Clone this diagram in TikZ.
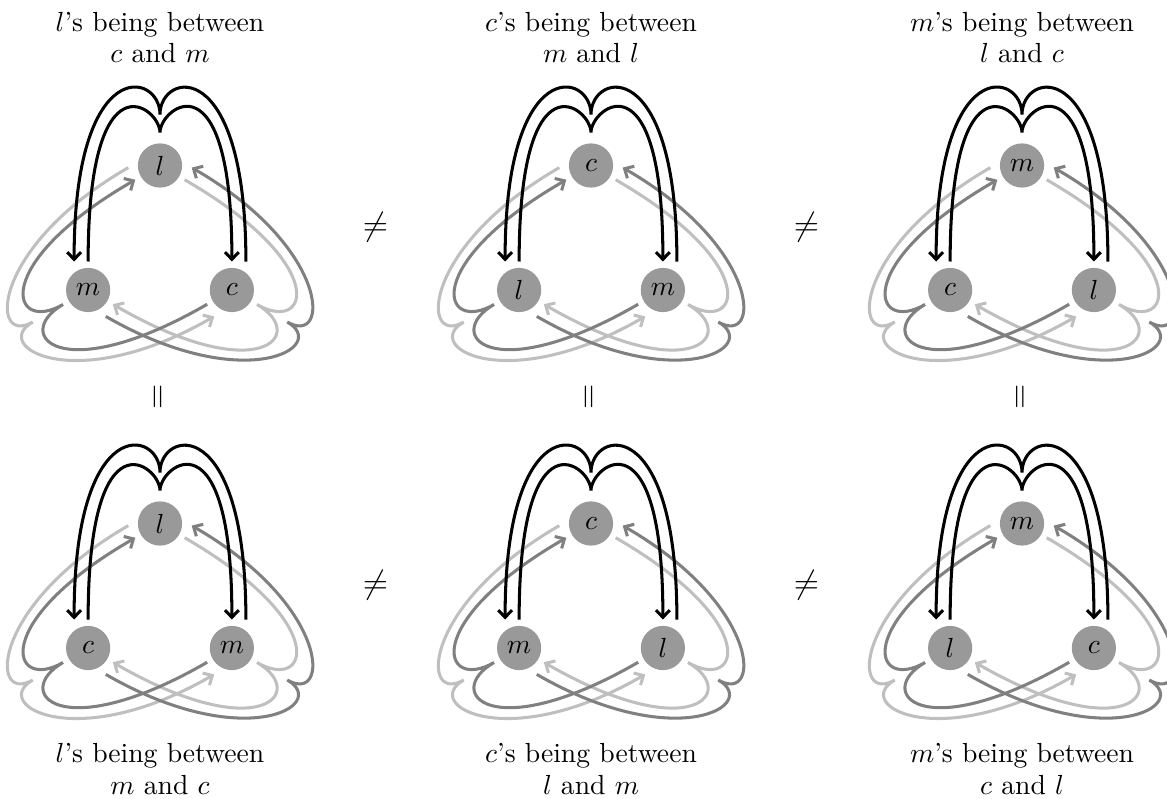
\documentclass[tikz,border=0pt]{standalone}
\usetikzlibrary{calc,arrows.meta}
\definecolor{lightc}{gray}{0.75}
\definecolor{darkc}{gray}{0.5}
\definecolor{nodegray}{gray}{0.6}
\tikzset{
  vtx/.style={circle, fill=nodegray, inner sep=0pt, minimum size=16pt, font=\normalsize},
  arc base/.style={line width=1.1pt, -{Straight Barb[length=2.6pt,width=5pt]}},
  blk/.style={arc base, draw=black},
  drk/.style={arc base, draw=darkc},
  lgt/.style={arc base, draw=lightc},
  lbl/.style={align=center, inner sep=0pt, font=\fontsize{10}{11.5}\selectfont},
  rel/.style={inner sep=0pt, font=\fontsize{13}{15}\selectfont},
}
% #1 prefix, #2 apex angle, #3 from, #4 to, #5 style, #6 cusp distance, #7 start/end handle, #8 cusp handle
\newcommand\innerc[8]{\draw[#5] ($(#1#3)+(#2:28.5)$) .. controls +(#2:#7) and +(#2:#8) .. ($(#1O)+(#2:#6)$) .. controls +(#2:#8) and +(#2:#7) .. ($(#1#4)+(#2:28.5)$);}
\newcommand\outerc[8]{\draw[#5] ($(#1#3)+(#2-26.2:31.75)$) .. controls +(#2:#7) and +(#2:#8) .. ($(#1O)+(#2:#6)$) .. controls +(#2:#8) and +(#2:#7) .. ($(#1#4)+(#2+26.2:31.75)$);}
\newcommand\tridiag[5]{%
  \coordinate (#1O) at (#2);
  \node[vtx] (#1T) at ($(#1O)+(90:83)$) {$#3$};
  \node[vtx] (#1L) at ($(#1O)+(210:83)$) {$#4$};
  \node[vtx] (#1R) at ($(#1O)+(330:83)$) {$#5$};
  \innerc{#1}{330}{T}{L}{lgt}{112}{170}{60}
  \outerc{#1}{210}{T}{R}{lgt}{147}{160}{50}
  \innerc{#1}{210}{R}{T}{drk}{112}{170}{60}
  \outerc{#1}{330}{L}{T}{drk}{147}{160}{50}
  \innerc{#1}{90}{L}{R}{blk}{116}{210}{25}
  \outerc{#1}{90}{R}{L}{blk}{134}{208}{43}
}
\begin{document}
\begin{tikzpicture}[x=0.3618pt, y=0.3618pt]
\useasboundingbox (0,0) rectangle (1167,798);
\tridiag{A}{160,549.5}{l}{m}{c}
\tridiag{B}{591,549.5}{c}{l}{m}
\tridiag{C}{1022,549.5}{m}{c}{l}
\tridiag{D}{160,191.5}{l}{c}{m}
\tridiag{E}{591,191.5}{c}{m}{l}
\tridiag{F}{1022,191.5}{m}{l}{c}
% labels
\node[lbl, anchor=north] (labA) at (160,786.7) {$l$'s being between\\$c$ and $m$};
\node[lbl, anchor=north] (labB) at (591,786.7) {$c$'s being between\\$m$ and $l$};
\node[lbl, anchor=north] (labC) at (1022,786.7) {$m$'s being between\\$l$ and $c$};
\node[lbl, anchor=south] (labD) at (160,3) {$l$'s being between\\$m$ and $c$};
\node[lbl, anchor=south] (labE) at (591,3) {$c$'s being between\\$l$ and $m$};
\node[lbl, anchor=south] (labF) at (1022,3) {$m$'s being between\\$c$ and $l$};
% relations
\node[rel] (neAB) at (375.5,571) {$\neq$};
\node[rel] (neBC) at (806.5,571) {$\neq$};
\node[rel] (neDE) at (375.5,213) {$\neq$};
\node[rel] (neEF) at (806.5,213) {$\neq$};
\node[rel, rotate=90] (eqAD) at (160,401.3) {$=$};
\node[rel, rotate=90] (eqBE) at (591,401.3) {$=$};
\node[rel, rotate=90] (eqCF) at (1022,401.3) {$=$};
\end{tikzpicture}
\end{document}
